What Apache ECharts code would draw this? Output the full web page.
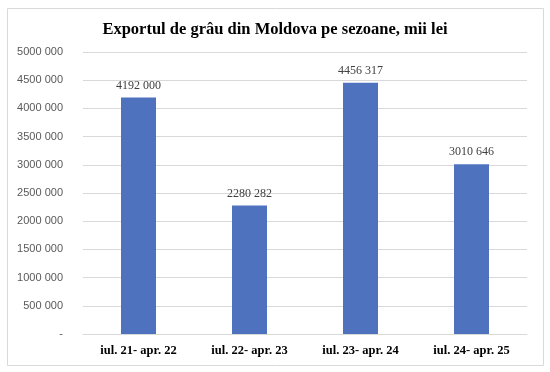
<!DOCTYPE html>
<html><head><meta charset="utf-8">
<script src="https://cdn.jsdelivr.net/npm/echarts@6/dist/echarts.min.js"></script>
<style>html,body{margin:0;padding:0;background:#fff}#c{width:550px;height:372px}</style>
</head><body><div id="c"></div>
<script>
const titleText = "Exportul de grâu din Moldova pe sezoane, mii lei";
const categories = ["iul. 21- apr. 22", "iul. 22- apr. 23", "iul. 23- apr. 24", "iul. 24- apr. 25"];
const values = [4192000, 2280282, 4456317, 3010646];
const yMin = 0, yMax = 5000000, yInterval = 500000;

function fmt(v) {
  if (v === 0) return "-";
  const th = Math.floor(v / 1000);
  const rest = String(Math.round(v % 1000)).padStart(3, "0");
  return th + " " + rest;
}

const chart = echarts.init(document.getElementById('c'), null, {renderer: 'canvas'});
chart.setOption({
  animation: false,
  backgroundColor: '#fff',
  graphic: [{
    type: 'rect', left: 5, top: 6, shape: {width: 536, height: 357},
    style: {fill: 'none', stroke: '#d9d9d9', lineWidth: 1}
  }],
  title: {
    text: titleText, left: 'center', top: 16,
    textStyle: {fontFamily: 'Liberation Serif', fontWeight: 'bold', fontSize: 16.5, color: '#000'}
  },
  grid: {left: 83, right: 23, top: 52, bottom: 38, containLabel: false},
  xAxis: {
    type: 'category', data: categories,
    axisLine: {show: true, lineStyle: {color: '#d9d9d9', width: 1}},
    axisTick: {show: false},
    axisLabel: {fontFamily: 'Liberation Serif', fontWeight: 'bold', fontSize: 12.5, color: '#000', margin: 10}
  },
  yAxis: {
    type: 'value', min: yMin, max: yMax, interval: yInterval,
    axisLine: {show: false}, axisTick: {show: false},
    splitLine: {lineStyle: {color: '#d9d9d9', width: 1}},
    axisLabel: {formatter: fmt, fontFamily: 'Liberation Sans', fontSize: 11, color: '#595959', margin: 20}
  },
  series: [{
    type: 'bar', data: values, barWidth: 35,
    itemStyle: {color: '#4f72be'},
    label: {show: true, position: 'top', formatter: p => fmt(p.value),
      fontFamily: 'Liberation Serif', fontSize: 12, color: '#404040', distance: 6}
  }]
});
</script></body></html>
